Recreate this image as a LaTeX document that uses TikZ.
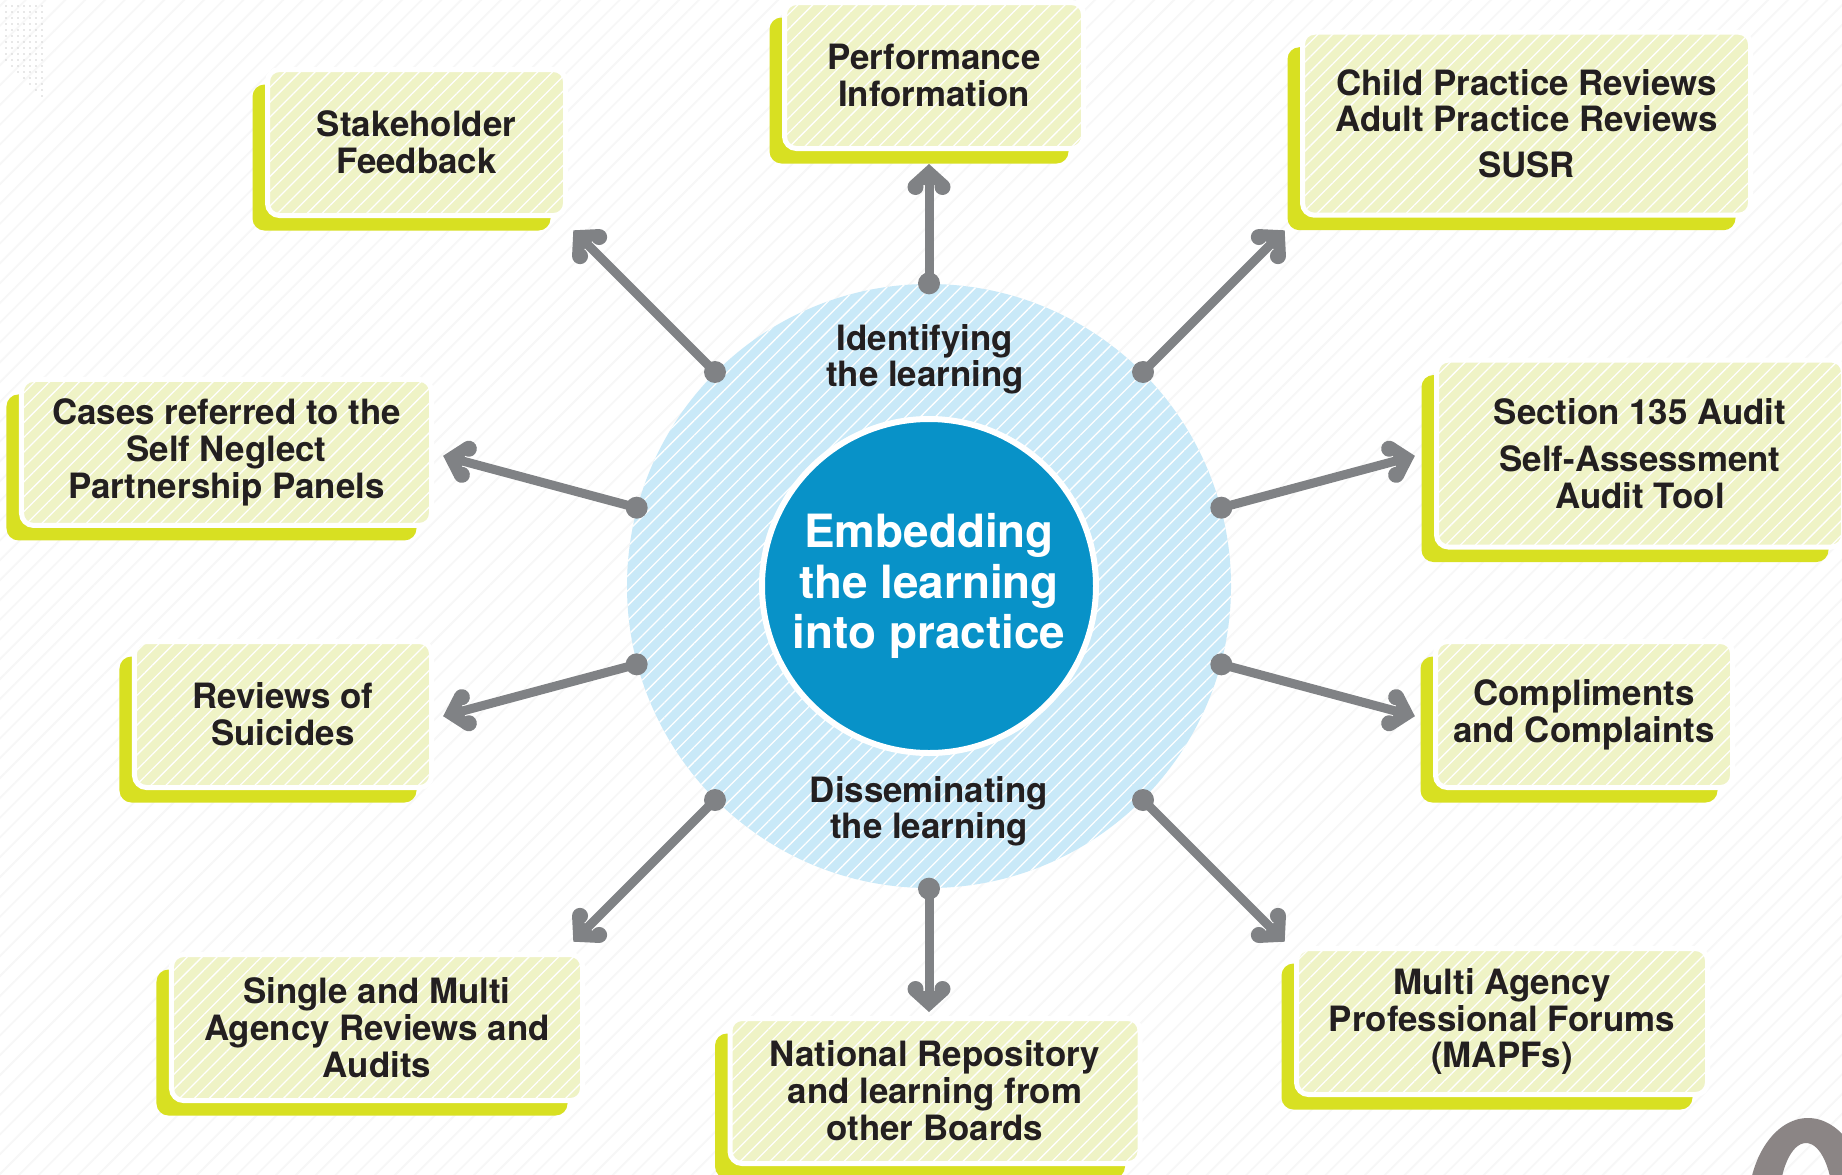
\documentclass[tikz,border=0pt]{standalone}
\usepackage{fontspec}
\setmainfont{TeX Gyre Heros}
\usetikzlibrary{arrows.meta,patterns.meta,calc}

\definecolor{boxfill}{HTML}{EFF3C6}
\definecolor{boxshade}{HTML}{D8E022}
\definecolor{ringblue}{HTML}{C9E9F8}
\definecolor{coreblue}{HTML}{0892C8}
\definecolor{linkgrey}{HTML}{808285}
\definecolor{inkdark}{HTML}{231F20}
\definecolor{pagegrey}{HTML}{8B8585}

\newcommand\cardfont{\fontsize{35}{37}\selectfont\bfseries}
\newcommand\corefont{\fontsize{46}{51}\selectfont\bfseries}

% arrow head with a pointed tip and two rounded lobes at the back
\pgfdeclarearrow{
  name=Lobed,
  setup code={
    \pgfarrowssettipend{0pt}
    \pgfarrowssetbackend{-31.5bp}
    \pgfarrowssetlineend{-19bp}
    \pgfarrowshullpoint{0pt}{0pt}
    \pgfarrowshullpoint{-31bp}{21.5bp}
    \pgfarrowshullpoint{-31bp}{-21.5bp}
  },
  drawing code={
    \pgfsetfillcolor{linkgrey}
    \pgfpathmoveto{\pgfpointorigin}
    \pgfpathlineto{\pgfpoint{-17.09bp}{18.85bp}}
    \pgfpathlineto{\pgfpoint{-23bp}{13.5bp}}
    \pgfpathlineto{\pgfpoint{-20bp}{0bp}}
    \pgfpathlineto{\pgfpoint{-23bp}{-13.5bp}}
    \pgfpathlineto{\pgfpoint{-17.09bp}{-18.85bp}}
    \pgfpathclose
    \pgfusepathqfill
    \pgfpathcircle{\pgfpoint{-23bp}{13.5bp}}{8bp}
    \pgfusepathqfill
    \pgfpathcircle{\pgfpoint{-23bp}{-13.5bp}}{8bp}
    \pgfusepathqfill
  }
}

\tikzset{
  hatch/.style={pattern={Lines[angle=45,distance=10.5bp,line width=1.3bp]}, pattern color=#1},
  card/.style={rectangle, rounded corners=12bp, inner sep=0pt, align=center,
    font=\cardfont, text=inkdark,
    preaction={fill=boxshade, transform canvas={shift={(-15bp,-15bp)}}},
    preaction={fill=boxfill},
    hatch=white, draw=white, line width=5bp},
  ringlabel/.style={align=center, font=\fontsize{35}{36}\selectfont\bfseries, text=inkdark, inner sep=0pt},
  dotnode/.style={circle, fill=linkgrey, minimum size=22bp, inner sep=0pt},
  link/.style={draw=linkgrey, line width=9bp, -{Lobed}}
}

\begin{document}
\begin{tikzpicture}[x=1bp, y=-1bp]
  \useasboundingbox (0,0) rectangle (1842,1174);
  % page ground with faint diagonal ruling
  \fill[white] (0,0) rectangle (1842,1174);
  \fill[pattern={Lines[angle=45,distance=14bp,line width=1.8bp]}, pattern color=black!3]
    (0,0) rectangle (1842,1174);

  % halftone dots in the upper left corner
  \foreach \j in {1,...,16}{
    \foreach \i in {1,...,7}{
      \pgfmathsetmacro\keep{\i > (\j-9)*0.9 ? 1 : 0}
      \ifnum\keep=1
        \fill[black!18] (6*\i,6*\j) circle (0.9bp);
      \fi
    }
  }

  % part of a large page numeral at the lower right edge
  \begin{scope}
    \clip (0,0) rectangle (1842,1174);
    \fill[pagegrey, even odd rule] (1808,1208) ellipse [x radius=60, y radius=90]
                                   (1806,1205) ellipse [x radius=27, y radius=62];
  \end{scope}

  % central rings
  \node[circle, minimum size=604bp, inner sep=0pt, preaction={fill=ringblue}, hatch=white]
    (ring) at (929,586) {};
  \node[circle, minimum size=334bp, inner sep=0pt, fill=coreblue, draw=white, line width=6bp,
    align=center, font=\corefont, text=white]
    (core) at (929,586) {Embedding\\the learning\\into practice};
  \node[ringlabel] (ident) at (925,359) {Identifying\\the learning};
  \node[ringlabel] (dissem) at (929,811) {Disseminating\\the learning};

  % spokes: a dot on the ring and an arrow pointing out to each source
  \foreach \a/\r [count=\i] in {90/422bp, 45/503bp, 15/503bp, 345/503bp, 315/503bp,
                                270/426bp, 225/503bp, 195/503bp, 165/503bp, 135/503bp}{
    \node[dotnode] (d\i) at (ring.\a) {};
    \coordinate (t\i) at ($(ring.center)+(\a:\r)$);
    \draw[link] (d\i.center) -- (t\i);
  }

  % sources of learning
  \node[card, minimum width=299bp, minimum height=146bp] (b1) at (934,75.5)
    {Performance\\Information};
  \node[card, minimum width=298bp, minimum height=146bp] (b2) at (416.5,142.5)
    {Stakeholder\\Feedback};
  \node[card, minimum width=448bp, minimum height=183bp] (b3) at (1526.5,123.7)
    {Child Practice Reviews\\Adult Practice Reviews\\[9bp]SUSR};
  \node[card, minimum width=407bp, minimum height=187bp] (b4) at (1640,453.5)
    {Section 135 Audit\\[10bp]Self-Assessment\\Audit Tool};
  \node[card, minimum width=297bp, minimum height=146bp] (b5) at (1584,714.5)
    {Compliments\\and Complaints};
  \node[card, minimum width=411bp, minimum height=146bp] (b6) at (1502,1021.5)
    {Multi Agency\\Professional Forums\\(MAPFs)};
  \node[card, minimum width=410bp, minimum height=145bp] (b7) at (935,1091)
    {National Repository\\and learning from\\other Boards};
  \node[card, minimum width=411bp, minimum height=146bp] (b8) at (377,1027.5)
    {Single and Multi\\Agency Reviews and\\Audits};
  \node[card, minimum width=297bp, minimum height=146bp] (b9) at (283,714.5)
    {Reviews of\\Suicides};
  \node[card, minimum width=410bp, minimum height=146bp] (b10) at (226.5,452.4)
    {Cases referred to the\\Self Neglect\\Partnership Panels};
\end{tikzpicture}
\end{document}
